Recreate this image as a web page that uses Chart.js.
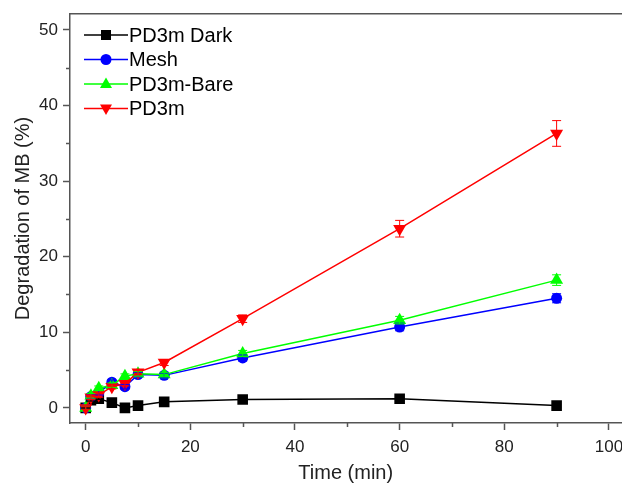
<!DOCTYPE html>
<html>
<head>
<meta charset="utf-8">
<script src="https://cdn.jsdelivr.net/npm/chart.js@4"></script>
<style>
  body { margin: 0; background: #fff; overflow: hidden; }
  #wrap { width: 622px; height: 484px; overflow: hidden; }
</style>
</head>
<body>
<div id="wrap"><canvas id="mbChart" width="629" height="484"></canvas></div>
<script>
// tempos de amostragem (min)
const times = [0, 1, 2.5, 5, 7.5, 10, 15, 30, 60, 90];

// degradação do MB (%) por amostra
const dark = [0, 1.0, 1.2, 0.7, 0.0, 0.3, 0.8, 1.1, 1.2, 0.3];
const mesh = [0, 1.5, 2.0, 3.4, 2.8, 4.4, 4.3, 6.6, 10.7, 14.5];
const bare = [0, 1.6, 2.6, 3.0, 4.2, 4.5, 4.4, 7.2, 11.6, 16.9];
const pd3m = [0, 1.4, 1.7, 2.8, 3.2, 4.7, 6.0, 11.8, 23.7, 36.3];

// barras de erro
const darkErr = [0.1, 0.1, 0.1, 0.1, 0.1, 0.1, 0.1, 0.2, 0.2, 0.2];
const meshErr = [0.2, 0.3, 0.3, 0.3, 0.3, 0.3, 0.3, 0.4, 0.5, 0.6];
const bareErr = [0.2, 0.3, 0.3, 0.3, 0.3, 0.3, 0.3, 0.4, 0.5, 0.7];
const pd3mErr = [0.2, 0.3, 0.3, 0.3, 0.3, 0.3, 0.4, 0.5, 1.1, 1.7];

// ticks
const xTicks = [0, 20, 40, 60, 80, 100];
const xMinor = [10, 30, 50, 70, 90];
const yTicks = [0, 10, 20, 30, 40, 50];
const yMinor = [5, 15, 25, 35, 45];

const FONT = "'Liberation Sans', Arial, sans-serif";
const AXIS = '#555';

const pts = arr => times.map((t, i) => ({ x: t, y: arr[i] }));

function serie(label, arr, err, color, style, rot, radius, order) {
  return {
    label: label,
    data: pts(arr),
    errors: err,
    borderColor: color,
    backgroundColor: color,
    borderWidth: 1.5,
    pointStyle: style,
    pointRotation: rot,
    pointRadius: radius,
    pointBorderWidth: 0,
    pointBackgroundColor: color,
    tension: 0,
    order: order
  };
}

// barras de erro desenhadas pelas escalas do gráfico
const errorBars = {
  id: 'errorBars',
  afterDatasetsDraw(chart) {
    const ctx = chart.ctx;
    const y = chart.scales.y;
    chart.data.datasets.forEach((ds, di) => {
      const meta = chart.getDatasetMeta(di);
      ctx.save();
      ctx.strokeStyle = ds.borderColor;
      ctx.lineWidth = 1;
      meta.data.forEach((p, i) => {
        const v = ds.data[i].y, e = ds.errors[i];
        const top = y.getPixelForValue(v + e);
        const bot = y.getPixelForValue(v - e);
        ctx.beginPath();
        ctx.moveTo(p.x, top); ctx.lineTo(p.x, bot);
        ctx.moveTo(p.x - 4.5, top); ctx.lineTo(p.x + 4.5, top);
        ctx.moveTo(p.x - 4.5, bot); ctx.lineTo(p.x + 4.5, bot);
        ctx.stroke();
      });
      ctx.restore();
    });
  }
};

// ticks menores
const minorTicks = {
  id: 'minorTicks',
  afterDraw(chart) {
    const ctx = chart.ctx;
    const { x, y } = chart.scales;
    const a = chart.chartArea;
    ctx.save();
    ctx.strokeStyle = AXIS;
    ctx.lineWidth = 1.5;
    ctx.beginPath();
    xMinor.forEach(v => {
      const px = Math.round(x.getPixelForValue(v)) + 0.5;
      ctx.moveTo(px, a.bottom); ctx.lineTo(px, a.bottom + 4);
    });
    yMinor.forEach(v => {
      const py = Math.round(y.getPixelForValue(v)) + 0.5;
      ctx.moveTo(a.left, py); ctx.lineTo(a.left - 4, py);
    });
    ctx.stroke();
    ctx.restore();
  }
};

// legenda estilo Origin: linha - marcador - linha
const originLegend = {
  id: 'originLegend',
  afterDraw(chart) {
    const ctx = chart.ctx;
    const x0 = 84, x1 = 128, xm = 106, y0 = 35, dy = 24.5;
    ctx.save();
    ctx.font = '20px ' + FONT;
    ctx.textBaseline = 'middle';
    chart.data.datasets.forEach((ds, r) => {
      const yy = y0 + r * dy;
      ctx.strokeStyle = ds.borderColor;
      ctx.lineWidth = 1.5;
      ctx.beginPath();
      ctx.moveTo(x0, yy); ctx.lineTo(x1, yy);
      ctx.stroke();
      ctx.fillStyle = ds.borderColor;
      ctx.beginPath();
      if (ds.pointStyle === 'rect') {
        ctx.rect(xm - 5, yy - 5, 10, 10);
      } else if (ds.pointStyle === 'circle') {
        ctx.arc(xm, yy, 5.5, 0, Math.PI * 2);
      } else if (ds.pointRotation === 180) {
        ctx.moveTo(xm - 6, yy - 4); ctx.lineTo(xm + 6, yy - 4); ctx.lineTo(xm, yy + 6.5);
      } else {
        ctx.moveTo(xm - 6, yy + 4); ctx.lineTo(xm + 6, yy + 4); ctx.lineTo(xm, yy - 6.5);
      }
      ctx.closePath();
      ctx.fill();
      ctx.fillStyle = '#000';
      ctx.fillText(ds.label, x1 + 1, yy + 1);
    });
    ctx.restore();
  }
};

const mbChart = new Chart(document.getElementById('mbChart'), {
  type: 'line',
  data: {
    datasets: [
      serie('PD3m Dark', dark, darkErr, '#000000', 'rect', 0, 7.5, 3),
      serie('Mesh', mesh, meshErr, '#0000FF', 'circle', 0, 5.5, 2),
      serie('PD3m-Bare', bare, bareErr, '#00FF00', 'triangle', 0, 7.5, 1),
      serie('PD3m', pd3m, pd3mErr, '#FF0000', 'triangle', 180, 7.5, 0)
    ]
  },
  options: {
    responsive: false,
    animation: false,
    layout: { padding: 0 },
    plugins: {
      legend: { display: false },
      tooltip: { enabled: false }
    },
    scales: {
      x: {
        type: 'linear',
        position: 'bottom',
        min: -3,
        max: 102.4,
        afterBuildTicks: s => { s.ticks = xTicks.map(v => ({ value: v })); },
        afterFit: s => { s.height = 61; s.paddingLeft = 0; s.paddingRight = 0; },
        grid: { drawOnChartArea: false, tickLength: 7, tickWidth: 1.5, tickColor: AXIS },
        border: { color: AXIS, width: 1.5 },
        ticks: { color: '#222', padding: 7, maxRotation: 0, font: { family: FONT, size: 17 } },
        title: { display: true, text: 'Time (min)', color: '#222', padding: { top: 8, bottom: -1 }, font: { family: FONT, size: 20 } }
      },
      top: {
        type: 'linear',
        position: 'top',
        min: -3,
        max: 102.4,
        afterFit: s => { s.height = 14; s.paddingLeft = 0; s.paddingRight = 0; },
        grid: { display: false },
        border: { color: AXIS, width: 1.5 },
        ticks: { display: false }
      },
      y: {
        type: 'linear',
        min: -2,
        max: 52.1,
        afterBuildTicks: s => { s.ticks = yTicks.map(v => ({ value: v })); },
        afterFit: s => { s.width = 70; s.paddingTop = 0; s.paddingBottom = 0; },
        grid: { drawOnChartArea: false, tickLength: 7, tickWidth: 1.5, tickColor: AXIS },
        border: { color: AXIS, width: 1.5 },
        ticks: { color: '#222', padding: 5, font: { family: FONT, size: 17 } },
        title: { display: true, text: 'Degradation of MB (%)', color: '#222', padding: { top: 11, bottom: 0 }, font: { family: FONT, size: 20 } }
      }
    }
  },
  plugins: [errorBars, minorTicks, originLegend]
});
</script>
</body>
</html>
